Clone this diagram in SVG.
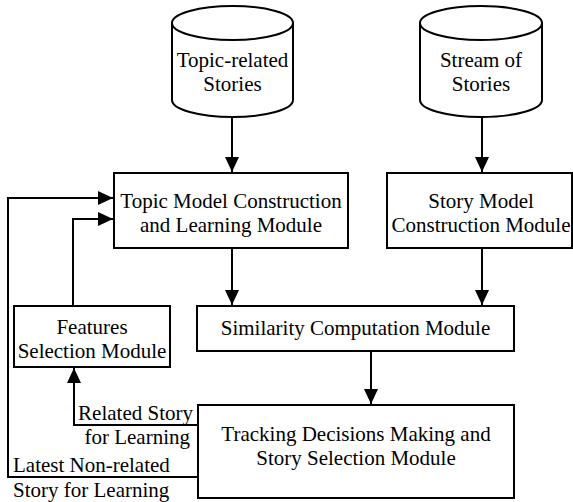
<svg xmlns="http://www.w3.org/2000/svg" width="573" height="502" viewBox="0 0 573 502">
<defs>
<style>
.box{fill:#fff;stroke:#000;stroke-width:2}
.cyl{fill:#fff;stroke:#000;stroke-width:2}
text{font-family:'Liberation Serif','Times New Roman',serif;font-size:21px;fill:#000}
.t{text-anchor:middle}
.c{fill:none;stroke:#000;stroke-width:2}
</style>
<marker id="ah" markerUnits="userSpaceOnUse" markerWidth="16" markerHeight="14" refX="15" refY="7" orient="auto">
<path d="M0,0 L15,7 L0,14 Z" fill="#000"/>
</marker>
</defs>
<rect width="573" height="502" fill="#fff"/>
<g id="connectors">
<path class="c" d="M232,117 V172" marker-end="url(#ah)"/>
<path class="c" d="M482,117 V172" marker-end="url(#ah)"/>
<path class="c" d="M232,248 V305" marker-end="url(#ah)"/>
<path class="c" d="M482,248 V305" marker-end="url(#ah)"/>
<path class="c" d="M371,351 V404" marker-end="url(#ah)"/>
<path class="c" d="M198,425 H74 V368" marker-end="url(#ah)"/>
<path class="c" d="M73,306 V219 H113" marker-end="url(#ah)"/>
<path class="c" d="M198,477 H8 V198 H113" marker-end="url(#ah)"/>
</g>
<g id="topic-stories">
<path class="cyl" d="M172,23 V100 A60.5,17 0 0 0 293,100 V23 A60.5,17 0 0 0 172,23 Z"/>
<path class="c" d="M172,23 A60.5,17 0 0 0 293,23"/>
<text class="t" x="232.5" y="67">Topic-related</text>
<text class="t" x="232.5" y="91">Stories</text>
</g>
<g id="stream-stories">
<path class="cyl" d="M420,23 V100 A61,17 0 0 0 542,100 V23 A61,17 0 0 0 420,23 Z"/>
<path class="c" d="M420,23 A61,17 0 0 0 542,23"/>
<text class="t" x="481" y="67">Stream of</text>
<text class="t" x="481" y="91">Stories</text>
</g>
<g id="topic-model">
<rect class="box" x="114" y="173" width="234" height="75"/>
<text class="t" x="231" y="208">Topic Model Construction</text>
<text class="t" x="231" y="232">and Learning Module</text>
</g>
<g id="story-model">
<rect class="box" x="387" y="173" width="185" height="75"/>
<text class="t" x="481" y="208">Story Model</text>
<text class="t" x="481" y="232">Construction Module</text>
</g>
<g id="similarity">
<rect class="box" x="197" y="306" width="317" height="45"/>
<text class="t" x="355.5" y="335">Similarity Computation Module</text>
</g>
<g id="features">
<rect class="box" x="14" y="306" width="156" height="61"/>
<text class="t" x="92" y="334">Features</text>
<text class="t" x="92" y="358">Selection Module</text>
</g>
<g id="tracking">
<rect class="box" x="198" y="405" width="316" height="93"/>
<text class="t" x="356" y="441">Tracking Decisions Making and</text>
<text class="t" x="356" y="465">Story Selection Module</text>
</g>
<g id="labels">
<text x="193" y="420" text-anchor="end">Related Story</text>
<text x="190" y="444" text-anchor="end">for Learning</text>
<text x="13" y="472">Latest Non-related</text>
<text x="13" y="497">Story for Learning</text>
</g>
</svg>
